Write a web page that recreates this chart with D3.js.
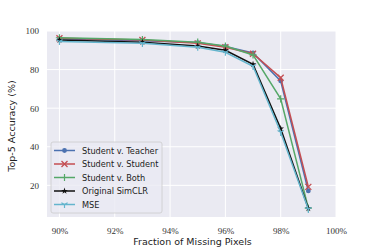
<!DOCTYPE html>
<html>
<head>
<meta charset="utf-8">
<script src="https://cdn.jsdelivr.net/npm/d3@7"></script>
<style>
  body { margin: 0; background: #fff; }
  .tick text { font-family: "Liberation Serif", serif; font-size: 9px; fill: #333; }
  .lab { font-family: "DejaVu Sans", sans-serif; font-size: 9.5px; fill: #222; }
  .leg { font-family: "DejaVu Sans", sans-serif; font-size: 8.2px; fill: #222; }
</style>
</head>
<body>
<svg id="chart" width="374" height="249"></svg>
<script>
const missing = [90, 93, 95, 96, 97, 98, 99];
const seriesNames = ['Student v. Teacher', 'Student v. Student', 'Student v. Both', 'Original SimCLR', 'MSE'];
const teacher = [96, 95, 94, 92, 88.6, 74.1, 17.1];
const student = [96.2, 95.3, 93.6, 91.6, 88.2, 75.8, 19.2];
const both = [96.5, 95.6, 94.2, 92.2, 87.6, 64.8, 8.2];
const simclr = [95.3, 94.2, 92.2, 90, 82.7, 49.4, 8];
const mse = [94.6, 93.6, 91.6, 89, 81.7, 47.5, 7.6];
const xTicks = [90, 92, 94, 96, 98, 100];
const yTicks = [20, 40, 60, 80, 100];

const allSeries = [teacher, student, both, simclr, mse];
const colors = ['#4C72B0', '#C44E52', '#55A868', '#111111', '#64B5CD'];
const markers = ['circle', 'x', 'plus', 'star', 'tri'];

const svg = d3.select('#chart');
const plotL = 47, plotR = 336, plotT = 31, plotB = 217;

const x = d3.scaleLinear().domain([89.55, 100]).range([plotL, plotR]);
const y = d3.scaleLinear().domain([3.6, 100]).range([plotB, plotT]);

// background + grid
svg.append('rect')
    .attr('x', plotL).attr('y', plotT)
    .attr('width', plotR - plotL).attr('height', plotB - plotT)
    .attr('fill', '#EAEAF2');

svg.append('g').selectAll('line').data(xTicks).join('line')
    .attr('x1', d => x(d)).attr('x2', d => x(d))
    .attr('y1', plotT).attr('y2', plotB)
    .attr('stroke', '#fff').attr('stroke-width', 1);

svg.append('g').selectAll('line').data(yTicks).join('line')
    .attr('x1', plotL).attr('x2', plotR)
    .attr('y1', d => y(d)).attr('y2', d => y(d))
    .attr('stroke', '#fff').attr('stroke-width', 1);

// axes (labels only)
const xAxis = svg.append('g')
    .attr('transform', `translate(0,${plotB})`)
    .call(d3.axisBottom(x).tickValues(xTicks).tickFormat(d => d + '%').tickSize(0).tickPadding(11));
xAxis.select('.domain').remove();

const yAxis = svg.append('g')
    .attr('transform', `translate(${plotL},0)`)
    .call(d3.axisLeft(y).tickValues(yTicks).tickSize(0).tickPadding(8));
yAxis.select('.domain').remove();

svg.append('text').attr('class', 'lab')
    .attr('x', (plotL + plotR) / 2 + 1).attr('y', 245)
    .attr('text-anchor', 'middle')
    .text('Fraction of Missing Pixels');

svg.append('text').attr('class', 'lab')
    .attr('transform', `translate(15,${(plotT + plotB) / 2 + 2}) rotate(-90)`)
    .attr('text-anchor', 'middle')
    .text('Top-5 Accuracy (%)');

// markers
function drawMarker(g, type, color, s) {
    if (type === 'circle') {
        g.append('circle').attr('r', s * 0.8).attr('fill', color);
    } else if (type === 'x') {
        g.append('path').attr('d', `M${-s},${-s}L${s},${s}M${-s},${s}L${s},${-s}`)
            .attr('stroke', color).attr('stroke-width', 1.3).attr('fill', 'none');
    } else if (type === 'plus') {
        g.append('path').attr('d', `M${-s * 1.2},0L${s * 1.2},0M0,${-s * 1.2}L0,${s * 1.2}`)
            .attr('stroke', color).attr('stroke-width', 1.2).attr('fill', 'none');
    } else if (type === 'star') {
        g.append('path').attr('d', d3.symbol(d3.symbolStar, 14)()).attr('fill', color);
    } else {
        const r = s * 1.2;
        g.append('path').attr('d', `M0,0L0,${r}M0,0L${-r * 0.87},${-r * 0.5}M0,0L${r * 0.87},${-r * 0.5}`)
            .attr('stroke', color).attr('stroke-width', 1.2).attr('fill', 'none');
    }
}

const line = d3.line().x((d, i) => x(missing[i])).y(d => y(d));

allSeries.forEach((vals, k) => {
    svg.append('path').datum(vals)
        .attr('d', line)
        .attr('fill', 'none')
        .attr('stroke', colors[k])
        .attr('stroke-width', 1.5);
    vals.forEach((v, i) => {
        const g = svg.append('g').attr('transform', `translate(${x(missing[i])},${y(v)})`);
        drawMarker(g, markers[k], colors[k], 3);
    });
});

// legend
const legend = svg.append('g').attr('transform', 'translate(51,142)');
legend.append('rect')
    .attr('width', 111).attr('height', 71).attr('rx', 2)
    .attr('fill', 'rgba(234,234,242,0.8)')
    .attr('stroke', '#cccccc').attr('stroke-width', 0.8);

seriesNames.forEach((name, k) => {
    const gy = 8.5 + k * 13.5;
    legend.append('line')
        .attr('x1', 3).attr('x2', 24).attr('y1', gy).attr('y2', gy)
        .attr('stroke', colors[k]).attr('stroke-width', 1.5);
    const g = legend.append('g').attr('transform', `translate(13.5,${gy})`);
    drawMarker(g, markers[k], colors[k], 3);
    legend.append('text').attr('class', 'leg')
        .attr('x', 31).attr('y', gy + 3)
        .text(name);
});
</script>
</body>
</html>
